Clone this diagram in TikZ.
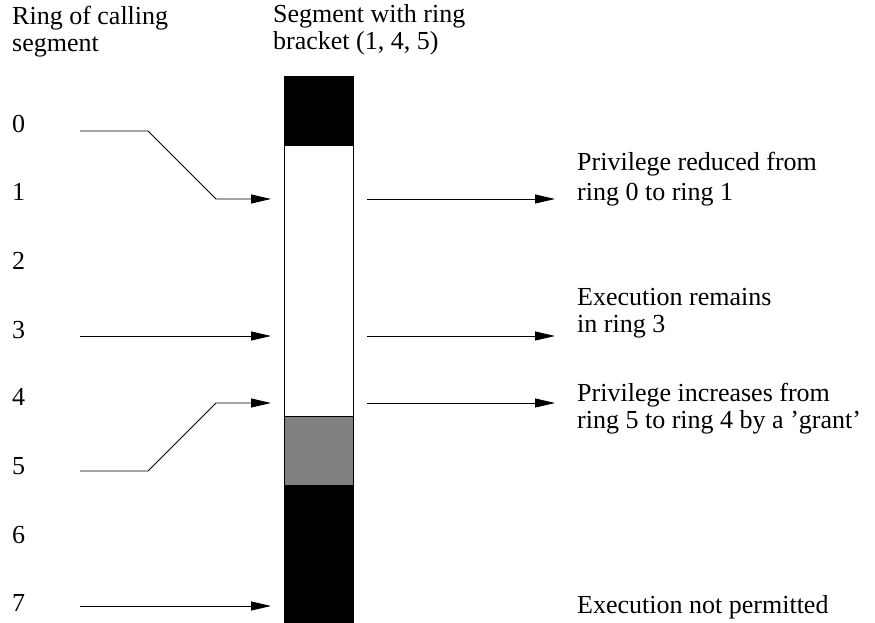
\documentclass[tikz,border=0pt]{standalone}
\usepackage{fontspec}
\setmainfont{Liberation Serif}
\usetikzlibrary{arrows.meta}
\tikzset{
  lbl/.style={anchor=base west, inner sep=0pt, align=left, font=\fontsize{26}{27}\selectfont},
  conn/.style={line width=0.9pt, -{Triangle[length=20pt,width=9pt]}},
  blk/.style={fill=black, draw=black, line width=0.9pt},
}
\begin{document}
\begin{tikzpicture}[x=1pt,y=-1pt]
\useasboundingbox (0,0) rectangle (875,623);
% bar
\path[blk] (284,76) rectangle (353,145);
\draw[line width=0.9pt, fill=white] (284,145) rectangle (353,416);
\draw[line width=0.9pt, fill=black!50] (284,416) rectangle (353,485);
\path[blk] (284,485) rectangle (353,623);
% headers (anchor = baseline of last line)
\node[lbl] (h1) at (12,52) {Ring of calling\\segment};
\node[lbl] (h2) at (273,50) {Segment with ring\\bracket (1, 4, 5)};
% ring numbers
\node[lbl] (r0) at (12,132) {0};
\node[lbl] (r1) at (12,200) {1};
\node[lbl] (r2) at (12,269) {2};
\node[lbl] (r3) at (12,338) {3};
\node[lbl] (r4) at (12,405) {4};
\node[lbl] (r5) at (12,474) {5};
\node[lbl] (r6) at (12,543) {6};
\node[lbl] (r7) at (12,611) {7};
% right texts
\node[lbl, font=\fontsize{26}{30}\selectfont] (t1) at (577,200) {Privilege reduced from\\ring 0 to ring 1};
\node[lbl] (t2) at (577,332) {Execution remains\\in ring 3};
\node[lbl] (t3) at (577,428) {Privilege increases from\\ring 5 to ring 4 by a ’grant’};
\node[lbl] (t4) at (577,613) {Execution not permitted};
% coordinates
\coordinate (a0) at (80,131);
\coordinate (b1) at (271,199);
\coordinate (a3) at (80,336);
\coordinate (b3) at (271,336);
\coordinate (a5) at (80,471);
\coordinate (b4) at (271,403);
\coordinate (a7) at (80,606);
\coordinate (b7) at (271,606);
\coordinate (c1) at (367,199);
\coordinate (d1) at (555,199);
\coordinate (c3) at (367,336);
\coordinate (d3) at (555,336);
\coordinate (c4) at (367,403);
\coordinate (d4) at (555,403);
% connectors
\draw[conn] (a0) -- (148,131) -- (216,199) -- (b1);
\draw[conn] (a3) -- (b3);
\draw[conn] (a5) -- (148,471) -- (216,403) -- (b4);
\draw[conn] (a7) -- (b7);
\draw[conn] (c1) -- (d1);
\draw[conn] (c3) -- (d3);
\draw[conn] (c4) -- (d4);
\end{tikzpicture}
\end{document}
